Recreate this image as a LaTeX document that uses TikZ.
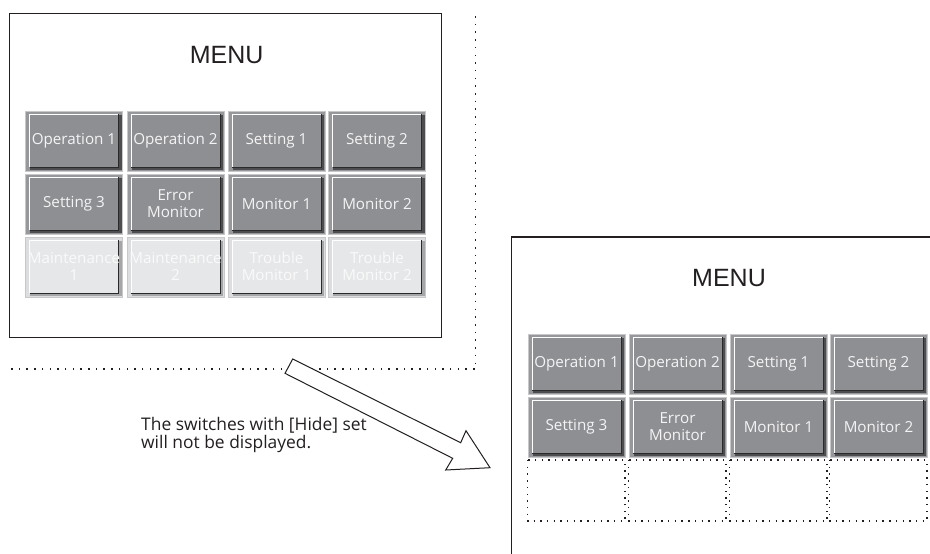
\documentclass[tikz,border=0pt]{standalone}
\usepackage{fontspec}
\setmainfont{Open Sans}
\newfontfamily\menufont{Liberation Sans}
\definecolor{ink}{HTML}{231F20}
\definecolor{facedark}{HTML}{8E8F93}
\definecolor{banddark}{HTML}{97989C}
\definecolor{shadowdark}{HTML}{4D4D4F}
\definecolor{outerdark}{HTML}{C8C8CA}
\definecolor{facelight}{HTML}{E6E7E9}
\definecolor{bandlight}{HTML}{DCDDDF}
\definecolor{shadowlight}{HTML}{A5A6A8}
\definecolor{outerlight}{HTML}{C8C8CA}
\definecolor{textdark}{HTML}{F4F4F4}
\definecolor{textlight}{HTML}{FAFAFA}
\definecolor{edgeline}{HTML}{2A2A2A}
\tikzset{
  frame/.style={draw=ink, line width=1.4pt},
  dotline/.style={draw=ink, line width=1.4pt, dash pattern=on 1.5pt off 6.2pt},
  cellbox/.style={draw=ink, line width=1.3pt, dash pattern=on 1.4pt off 5.3pt},
  menutitle/.style={font=\menufont\fontsize{25}{25}\selectfont, text=ink, inner sep=0pt},
  btntextdark/.style={font=\fontsize{15.2}{17.5}\selectfont, text=textdark, align=center, inner sep=0pt},
  btntextlight/.style={font=\fontsize{15.2}{17.5}\selectfont, text=textlight, align=center, inner sep=0pt},
  caption/.style={font=\fontsize{17.4}{18.5}\selectfont, text=ink, align=left, inner sep=0pt},
  blockarrow/.style={draw=ink, fill=white, line width=1pt, line join=miter},
}
\newcommand\mybtn[5]{%
  \begin{scope}[shift={(#2,#3)}]
    \draw[draw=outer#4, fill=band#4, line width=0.8pt] (0.4,0.4) rectangle (97.6,60.6);
    \fill[shadow#4] (5,4) rectangle (96.6,59.6);
    \fill[face#4] (4,3) rectangle (94,57);
    \draw[white, line width=1pt] (4.5,56.5) -- (4.5,3.5) -- (93.5,3.5);
    \draw[edgeline, line width=1pt] (4.5,56.5) -- (93.5,56.5) -- (93.5,3.5);
    \node[btntext#4] (#1) at (49,30) {#5};
  \end{scope}}
\newcommand\mycell[3]{%
  \path[cellbox] (#2,#3) rectangle ++(97.5,61);
  \coordinate (#1) at (#2,#3);}
\begin{document}
\begin{tikzpicture}[x=1pt,y=-1pt]
\useasboundingbox (0,0) rectangle (930,554);
% left screen
\draw[frame] (9.3,13.3) rectangle (441.3,337.3);
\node[menutitle] (menuA) at (226.7,55) {MENU};
\mybtn{a11}{25}{110.5}{dark}{Operation 1}
\mybtn{a12}{126.5}{110.5}{dark}{Operation 2}
\mybtn{a13}{227.5}{110.5}{dark}{Setting 1}
\mybtn{a14}{328}{110.5}{dark}{Setting 2}
\mybtn{a21}{25}{173.5}{dark}{Setting 3}
\mybtn{a22}{126.5}{173.5}{dark}{Error\\Monitor}
\mybtn{a23}{227.5}{173.5}{dark}{Monitor 1}
\mybtn{a24}{328}{173.5}{dark}{Monitor 2}
\mybtn{a31}{25}{236.5}{light}{Maintenance\\1}
\mybtn{a32}{126.5}{236.5}{light}{Maintenance\\2}
\mybtn{a33}{227.5}{236.5}{light}{Trouble\\Monitor 1}
\mybtn{a34}{328}{236.5}{light}{Trouble\\Monitor 2}
% dotted L
\coordinate (dTop) at (475.7,16);
\coordinate (dCorner) at (475.7,369);
\coordinate (dLeft) at (8,369);
\path[dotline] (dTop) -- (dCorner) -- (dLeft);
% block arrow
\draw[blockarrow] (292.7,359) -- (460.7,442.7) -- (466,430.7) -- (490,467.7)
  -- (445.7,470) -- (452.7,458.3) -- (285,373.3) -- cycle;
% caption
\node[caption, anchor=north west] (cap) at (141,417) {The switches with [Hide] set\\will not be displayed.};
% right screen
\draw[frame] (930,237) -- (511.7,237) -- (511.7,554);
\node[menutitle] (menuB) at (729,278) {MENU};
\mybtn{b11}{527.5}{333.5}{dark}{Operation 1}
\mybtn{b12}{628.5}{333.5}{dark}{Operation 2}
\mybtn{b13}{729.5}{333.5}{dark}{Setting 1}
\mybtn{b14}{829.5}{333.5}{dark}{Setting 2}
\mybtn{b21}{527.5}{396.5}{dark}{Setting 3}
\mybtn{b22}{628.5}{396.5}{dark}{Error\\Monitor}
\mybtn{b23}{729.5}{396.5}{dark}{Monitor 1}
\mybtn{b24}{829.5}{396.5}{dark}{Monitor 2}
\mycell{c1}{527.5}{460}
\mycell{c2}{628.5}{460}
\mycell{c3}{729.5}{460}
\mycell{c4}{829.5}{460}
\end{tikzpicture}
\end{document}
